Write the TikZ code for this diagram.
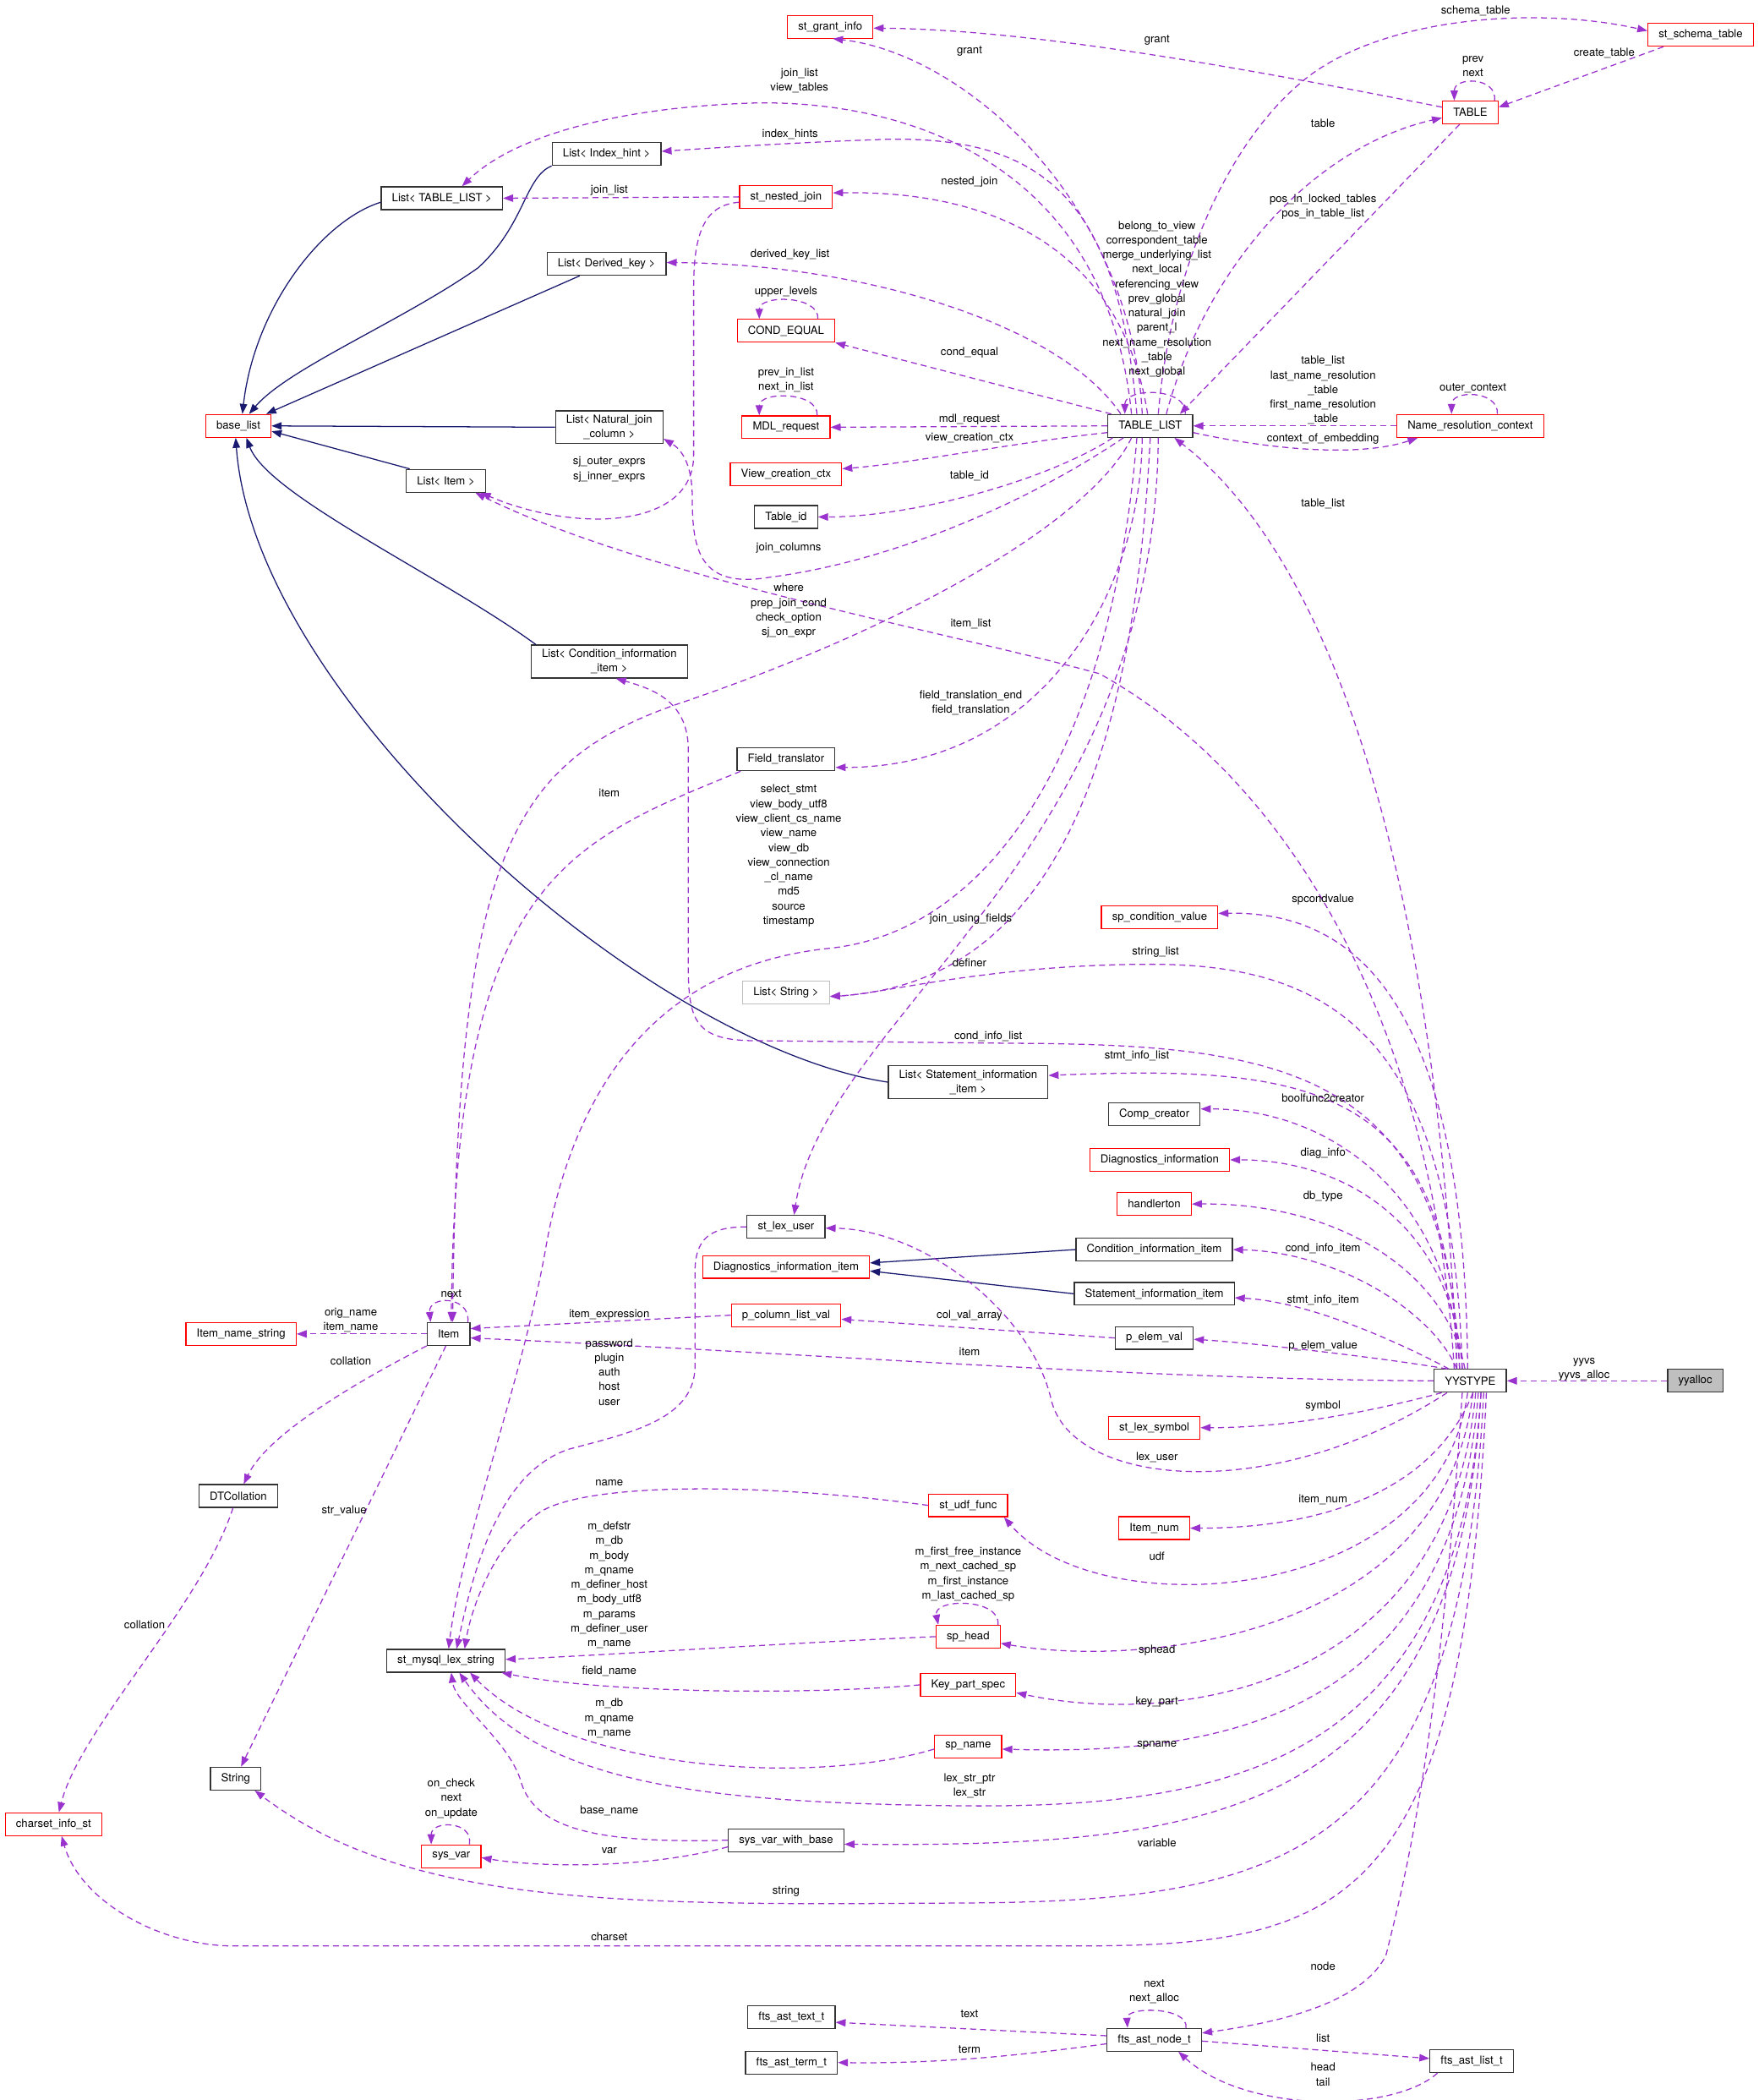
\documentclass[tikz,border=0pt]{standalone}
\usepackage{fontspec}
\setmainfont{TeX Gyre Heros}
\usetikzlibrary{arrows.meta, calc}
\definecolor{cMember}{HTML}{9A32CD}
\definecolor{cInherit}{HTML}{191970}
\definecolor{cUndoc}{HTML}{FF0000}
\definecolor{cNoDoc}{HTML}{BFBFBF}
\newcommand{\dxfont}{\fontsize{8.3}{10.9}\selectfont}
\tikzset{
  classbox/.style={draw=black!80, line width=0.8pt, fill=white, font=\dxfont,
    align=center, inner xsep=8pt, inner ysep=3pt, minimum height=17pt},
  undocbox/.style={classbox, draw=cUndoc},
  plainbox/.style={classbox, draw=cNoDoc},
  focusbox/.style={classbox, fill=cNoDoc},
  inheritflow/.style={-{Triangle[length=7.5pt, width=5.5pt]}, line width=0.8pt, color=cInherit},
  memberflow/.style={-{Triangle[length=7.5pt, width=5.5pt]}, line width=0.8pt, color=cMember,
    dash pattern=on 4.5pt off 3pt},
  edgelabel/.style={font=\dxfont, align=center, inner sep=0pt},
}

\begin{document}
\begin{tikzpicture}[x=1pt, y=-1pt]

  \fill[white] (0,0) rectangle (1313,1568);
  \useasboundingbox (0,0) rectangle (1313,1568);

  % ----------------------------------------------------------------
  % Classes
  % ----------------------------------------------------------------
  \node[undocbox] (cis)   at (40,1362)  {charset\_info\_st};

  \node[undocbox] (bl)    at (178,318)  {base\_list};
  \node[undocbox] (ins)   at (180,996)  {Item\_name\_string};
  \node[classbox] (dtc)   at (178,1117) {DTCollation};
  \node[classbox] (str)   at (176,1328) {String};

  \node[classbox] (ltl)   at (330,148)  {List< TABLE\_LIST >};
  \node[classbox] (litem) at (333,359)  {List< Item >};
  \node[classbox] (item)  at (335,996)  {Item};
  \node[classbox] (smls)  at (333,1240) {st\_mysql\_lex\_string};
  \node[undocbox] (sv)    at (337,1386) {sys\_var};

  \node[classbox] (lih)   at (453,115)  {List< Index\_hint >};
  \node[classbox] (ldk)   at (453,197)  {List< Derived\_key >};
  \node[classbox] (lnj)   at (455,319)  {List< Natural\_join\\\_column >};
  \node[classbox] (lci)   at (455,494)  {List< Condition\_information\\\_item >};

  \node[undocbox] (sgi)   at (620,20)   {st\_grant\_info};
  \node[undocbox] (snj)   at (587,147)  {st\_nested\_join};
  \node[undocbox] (ceq)   at (587,247)  {COND\_EQUAL};
  \node[undocbox] (mdl)   at (587,319)  {MDL\_request};
  \node[undocbox] (vcc)   at (587,354)  {View\_creation\_ctx};
  \node[classbox] (tid)   at (587,386)  {Table\_id};
  \node[classbox] (ft)    at (587,567)  {Field\_translator};
  \node[plainbox] (lstr)  at (587,741)  {List< String >};
  \node[classbox] (slu)   at (587,916)  {st\_lex\_user};
  \node[undocbox] (dii)   at (587,946)  {Diagnostics\_information\_item};
  \node[undocbox] (pclv)  at (587,982)  {p\_column\_list\_val};
  \node[classbox] (svwb)  at (587,1374) {sys\_var\_with\_base};
  \node[classbox] (fat)   at (591,1506) {fts\_ast\_text\_t};
  \node[classbox] (fatm)  at (591,1540) {fts\_ast\_term\_t};

  \node[classbox] (lsi)   at (723,808)  {List< Statement\_information\\\_item >};
  \node[undocbox] (suf)   at (723,1124) {st\_udf\_func};
  \node[undocbox] (sph)   at (723,1222) {sp\_head};
  \node[undocbox] (kps)   at (723,1258) {Key\_part\_spec};
  \node[undocbox] (spn)   at (723,1304) {sp\_name};

  \node[classbox] (tl)    at (859,318)  {TABLE\_LIST};
  \node[undocbox] (scv)   at (866,685)  {sp\_condition\_value};
  \node[classbox] (cc)    at (862,832)  {Comp\_creator};
  \node[undocbox] (di)    at (866,866)  {Diagnostics\_information};
  \node[undocbox] (hton)  at (862,899)  {handlerton};
  \node[classbox] (cii)   at (862,933)  {Condition\_information\_item};
  \node[classbox] (sii)   at (862,966)  {Statement\_information\_item};
  \node[classbox] (pev)   at (862,999)  {p\_elem\_val};
  \node[undocbox] (sls)   at (862,1066) {st\_lex\_symbol};
  \node[undocbox] (inum)  at (862,1141) {Item\_num};
  \node[classbox] (fan)   at (862,1523) {fts\_ast\_node\_t};

  \node[undocbox] (tbl)   at (1098,84)  {TABLE};
  \node[undocbox] (nrc)   at (1098,318) {Name\_resolution\_context};
  \node[classbox] (yys)   at (1098,1031) {YYSTYPE};
  \node[classbox] (fal)   at (1099,1539) {fts\_ast\_list\_t};

  \node[undocbox] (sst)   at (1270,26)  {st\_schema\_table};
  \node[focusbox] (yya)   at (1266,1031) {yyalloc};

  % ----------------------------------------------------------------
  % Inheritance
  % ----------------------------------------------------------------
  \draw[inheritflow] ([yshift=-3pt]ltl.west) .. controls (240,165) and (190,230) .. ([xshift=3pt]bl.north);
  \draw[inheritflow] (lih.south west) .. controls (392,132) and (392,168) .. (357,200)
    .. controls (300,240) and (215,275) .. ([xshift=8pt]bl.north);
  \draw[inheritflow] ([xshift=-20pt]ldk.south) -- ([xshift=-4pt]bl.north east);
  \draw[inheritflow] (lnj.west) -- (bl.east);
  \draw[inheritflow] ([xshift=3pt]litem.north west) -- ([yshift=-4pt]bl.east);
  \draw[inheritflow] ([xshift=4pt]lci.north west) .. controls (330,430) and (200,370) .. ([xshift=6pt]bl.south);
  \draw[inheritflow] (lsi.west) .. controls (480,780) and (190,520) .. ([xshift=-2pt]bl.south);
  \draw[inheritflow] (cii.west) -- ([yshift=3pt]dii.east);
  \draw[inheritflow] (sii.west) -- ([yshift=-3pt]dii.east);

  % ----------------------------------------------------------------
  % TABLE_LIST and its neighbours
  % ----------------------------------------------------------------
  \draw[memberflow] ([xshift=-6pt]tl.north) .. controls (845,150) and (720,40) .. ([xshift=2pt]sgi.south);
  \draw[memberflow] ([xshift=6pt]tl.north) .. controls (875,190) and (925,95) .. (980,55)
    .. controls (1040,12) and (1150,5) .. ([yshift=3pt]sst.west);
  \draw[memberflow] ([xshift=12pt]tl.north) .. controls (900,200) and (980,110) .. ([yshift=-4pt]tbl.west);
  \draw[memberflow] ([xshift=-14pt]tl.north) .. controls (825,110) and (660,74) .. (560,77)
    .. controls (450,81) and (380,105) .. ([xshift=15pt]ltl.north);
  \draw[memberflow] ([xshift=-10pt]tl.north) .. controls (835,150) and (780,102) .. (663,104)
    .. controls (600,106) and (540,110) .. ([yshift=2pt]lih.east);
  \draw[memberflow] ([xshift=-2pt]tl.north) .. controls (840,200) and (760,142) .. ([yshift=3pt]snj.east);
  \draw[memberflow] ([xshift=-22pt]tl.north) .. controls (790,240) and (640,197) .. ([yshift=1pt]ldk.east);
  \draw[memberflow] ([xshift=3pt]tl.north west) -- (ceq.south east);
  \draw[memberflow] (tl.west) -- (mdl.east);
  \draw[memberflow] ([yshift=-5pt]tl.west) .. controls (760,330) and (680,346) .. ([yshift=4pt]vcc.east);
  \draw[memberflow] ([xshift=-28pt]tl.south) .. controls (780,360) and (680,386) .. (tid.east);
  \draw[memberflow] ([xshift=-20pt]tl.south) .. controls (760,380) and (660,420) .. (575,431)
    .. controls (522,440) and (517,410) .. (517,372)
    .. controls (517,345) and (508,335) .. ([yshift=4pt]lnj.south east);
  \draw[memberflow] ([xshift=-14pt]tl.south) .. controls (820,380) and (700,460) .. (505,526)
    .. controls (380,570) and (342,640) .. ([xshift=3pt]item.north);
  \draw[memberflow] ([xshift=-6pt]tl.south) .. controls (852,440) and (780,573) .. ([yshift=-6pt]ft.east);
  \draw[memberflow] ([xshift=-10pt]tl.south) .. controls (830,560) and (740,695) .. (620,708)
    .. controls (500,720) and (430,800) .. (407,935)
    .. controls (390,1030) and (345,1150) .. ([xshift=2pt]smls.north);
  \draw[memberflow] (tl.south) .. controls (845,600) and (770,735) .. ([yshift=-3pt]lstr.east);
  \draw[memberflow] ([xshift=6pt]tl.south) .. controls (862,640) and (615,760) .. ([xshift=6pt]slu.north);
  \draw[memberflow] ([xshift=-6pt]tl.north east) .. controls +(2,-20) and +(0,-20) .. ([xshift=-19pt]tl.north);

  \draw[memberflow] (nrc.west) -- (tl.east);
  \draw[memberflow] ([yshift=-5pt]tl.east) .. controls (960,338) and (1020,340) .. ([xshift=16pt]nrc.south west);
  \draw[memberflow] ([xshift=-35pt]nrc.north east) .. controls +(1,-18) and +(0,-18) .. ([xshift=-14pt]nrc.north);

  \draw[memberflow] ([xshift=-8pt]tbl.south) -- ([xshift=-10pt]tl.north east);
  \draw[memberflow] ([yshift=4pt]tbl.west) .. controls (900,45) and (760,22) .. ([yshift=-1pt]sgi.east);
  \draw[memberflow] ([xshift=12pt]sst.south west) -- ([yshift=4pt]tbl.east);
  \draw[memberflow] ([xshift=-3pt]tbl.north east) .. controls +(2,-18) and +(0,-18) .. ([xshift=-12pt]tbl.north);

  \draw[memberflow] ([xshift=-13pt]ceq.north east) .. controls +(1,-18) and +(0,-18) .. ([xshift=-20pt]ceq.north);
  \draw[memberflow] ([xshift=-10pt]mdl.north east) .. controls +(1,-18) and +(0,-18) .. ([xshift=-20pt]mdl.north);

  \draw[memberflow] (snj.west) -- (ltl.east);
  \draw[memberflow] ([yshift=-4pt]snj.west) .. controls (527,153) and (518,172) .. (518,215) -- (518,340)
    .. controls (518,395) and (430,398) .. ([xshift=-4pt]litem.south east);

  \draw[memberflow] ([xshift=3pt]ft.south west) .. controls (420,630) and (340,660) .. ([xshift=2pt]item.north);

  % ----------------------------------------------------------------
  % YYSTYPE
  % ----------------------------------------------------------------
  \draw[memberflow] (yya.west) -- (yys.east);
  \draw[memberflow] ([xshift=-10pt]yys.north) .. controls (1075,700) and (1010,430) .. ([xshift=18pt]tl.south);
  \draw[memberflow] ([xshift=-12pt]yys.north) .. controls (1070,760) and (960,580) .. (821,503)
    .. controls (700,470) and (480,430) .. ([xshift=-8pt]litem.south east);
  \draw[memberflow] ([xshift=-2pt]yys.north) .. controls (1094,760) and (1020,680) .. ([yshift=3pt]scv.east);
  \draw[memberflow] ([xshift=-6pt]yys.north) .. controls (1085,780) and (1000,720) .. (860,720)
    .. controls (740,720) and (660,742) .. ([yshift=-3pt]lstr.east);
  \draw[memberflow] ([xshift=-8pt]yys.north) .. controls (1080,800) and (960,780) .. (760,779) -- (560,777)
    .. controls (518,776) and (514,760) .. (514,720) -- (514,560)
    .. controls (514,525) and (490,515) .. ([xshift=5pt]lci.south);
  \draw[memberflow] ([xshift=-10pt]yys.north) .. controls (1085,810) and (980,795) .. ([yshift=5pt]lsi.east);
  \draw[memberflow] ([xshift=-8pt]yys.north) .. controls (1085,900) and (1000,828) .. ([yshift=4pt]cc.east);
  \draw[memberflow] ([xshift=-6pt]yys.north) .. controls (1085,920) and (1010,866) .. (di.east);
  \draw[memberflow] ([xshift=-4pt]yys.north) .. controls (1080,950) and (1000,898) .. (hton.east);
  \draw[memberflow] ([xshift=-10pt]yys.north) .. controls (1070,980) and (1000,935) .. (cii.east);
  \draw[memberflow] ([xshift=-16pt]yys.north) .. controls (1050,1005) and (980,972) .. ([yshift=-3pt]sii.east);
  \draw[memberflow] ([xshift=10pt]yys.north west) .. controls (1040,1015) and (940,1003) .. ([yshift=-1pt]pev.east);
  \draw[memberflow] (yys.west) .. controls (850,1030) and (600,1010) .. ([yshift=-3pt]item.east);
  \draw[memberflow] ([xshift=6pt]yys.south west) .. controls (1020,1055) and (960,1066) .. (sls.east);
  \draw[memberflow] ([xshift=10pt]yys.south west) .. controls (950,1125) and (800,1110) .. (785,1045)
    .. controls (770,980) and (690,918) .. ([yshift=-1pt]slu.east);
  \draw[memberflow] ([xshift=2pt]yys.south) .. controls (1070,1115) and (985,1141) .. (inum.east);
  \draw[memberflow] ([xshift=-2pt]yys.south) .. controls (1075,1200) and (820,1215) .. ([xshift=-3pt]suf.south east);
  \draw[memberflow] ([xshift=2pt]yys.south) .. controls (1078,1225) and (850,1245) .. ([yshift=-5pt]sph.east);
  \draw[memberflow] ([xshift=4pt]yys.south) .. controls (1082,1260) and (880,1290) .. ([yshift=3pt]kps.south east);
  \draw[memberflow] ([xshift=6pt]yys.south) .. controls (1085,1290) and (900,1310) .. ([yshift=-2pt]spn.east);
  \draw[memberflow] ([xshift=8pt]yys.south) .. controls (1088,1330) and (900,1352) .. (695,1348)
    .. controls (520,1345) and (400,1330) .. ([xshift=10pt]smls.south);
  \draw[memberflow] ([xshift=8pt]yys.south) .. controls (1088,1360) and (900,1379) .. ([yshift=-3pt]svwb.east);
  \draw[memberflow] ([xshift=10pt]yys.south) .. controls (1090,1400) and (950,1421) .. (695,1421)
    .. controls (450,1423) and (300,1420) .. ([xshift=-5pt]str.south east);
  \draw[memberflow] ([xshift=12pt]yys.south) .. controls (1092,1430) and (1000,1453) .. (800,1453) -- (175,1453)
    .. controls (120,1453) and (60,1420) .. ([xshift=6pt]cis.south);
  \draw[memberflow] ([xshift=-6pt]yys.south) .. controls (1075,1300) and (1050,1400) .. (1035,1460)
    .. controls (1015,1500) and (940,1512) .. ([yshift=5pt]fan.east);

  % ----------------------------------------------------------------
  % Item, strings and the rest
  % ----------------------------------------------------------------
  \draw[memberflow] (item.west) -- (ins.east);
  \draw[memberflow] ([xshift=-2pt]item.north east) .. controls +(2,-20) and +(-2,-20) .. ([xshift=3pt]item.north west);
  \draw[memberflow] (item.south west) .. controls (270,1030) and (200,1070) .. ([xshift=4pt]dtc.north);
  \draw[memberflow] ([xshift=-2pt]item.south) -- ([xshift=4pt]str.north);
  \draw[memberflow] ([xshift=-4pt]dtc.south) .. controls (150,1200) and (60,1290) .. ([xshift=4pt]cis.north);
  \draw[memberflow] (pclv.west) -- ([yshift=4pt]item.east);
  \draw[memberflow] (pev.west) -- ([yshift=-3pt]pclv.east);

  \draw[memberflow] (slu.west) .. controls (530,916) and (519,925) .. (519,950) -- (519,1020)
    .. controls (519,1060) and (470,1070) .. (425,1082)
    .. controls (370,1100) and (352,1180) .. ([xshift=8pt]smls.north);
  \draw[memberflow] (suf.west) .. controls (560,1106) and (440,1108) .. (405,1128)
    .. controls (370,1150) and (352,1200) .. ([xshift=14pt]smls.north);
  \draw[memberflow] (sph.west) .. controls (600,1226) and (450,1236) .. ([yshift=1pt]smls.east);
  \draw[memberflow] ([xshift=-2pt]sph.north east) .. controls +(2,-20) and +(-4,-20) .. ([xshift=2pt]sph.north west);
  \draw[memberflow] (kps.west) .. controls (600,1266) and (450,1264) .. ([xshift=-3pt]smls.south east);
  \draw[memberflow] ([yshift=-2pt]spn.west) .. controls (600,1335) and (420,1320) .. ([xshift=18pt]smls.south);
  \draw[memberflow] (svwb.west) .. controls (460,1376) and (400,1370) .. (389,1330)
    .. controls (380,1300) and (340,1272) .. ([xshift=4pt]smls.south);
  \draw[memberflow] ([yshift=-5pt]svwb.west) .. controls (480,1396) and (400,1394) .. ([yshift=-1pt]sv.east);
  \draw[memberflow] ([xshift=-9pt]sv.north east) .. controls +(3,-18) and +(0,-18) .. ([xshift=-15pt]sv.north);

  \draw[memberflow] ([yshift=3pt]fan.west) -- ([yshift=-4pt]fat.east);
  \draw[memberflow] ([yshift=-3pt]fan.west) .. controls (760,1535) and (700,1541) .. (fatm.east);
  \draw[memberflow] ([yshift=-1pt]fan.east) -- ([yshift=2pt]fal.west);
  \draw[memberflow] ([xshift=6pt]fal.south west) .. controls (1040,1578) and (930,1578) .. ([xshift=18pt]fan.south);
  \draw[memberflow] ([xshift=-12pt]fan.north east) .. controls +(2,-16) and +(-1,-16) .. ([xshift=-20pt]fan.north);

  % ----------------------------------------------------------------
  % Edge labels
  % ----------------------------------------------------------------
  \node[edgelabel] (lgrant)   at (724,38)   {grant};
  \node[edgelabel] (lgrantb)  at (864,30)   {grant};
  \node[edgelabel] (lschema)  at (1102,8)   {schema\_table};
  \node[edgelabel] (lcreate)  at (1198,40)  {create\_table};
  \node[edgelabel] (lprev)    at (1100,49.5) {prev\\next};
  \node[edgelabel] (ltable)   at (988,92)   {table};
  \node[edgelabel] (ljoinl)   at (597,60)   {join\_list\\view\_tables};
  \node[edgelabel] (lhints)   at (590,100)  {index\_hints};
  \node[edgelabel] (ljoinb)   at (455,142)  {join\_list};
  \node[edgelabel] (lnested)  at (724,136)  {nested\_join};
  \node[edgelabel] (lpos)     at (988,154.5) {pos\_in\_locked\_tables\\pos\_in\_table\_list};
  \node[edgelabel] (lderived) at (590,190)  {derived\_key\_list};
  \node[edgelabel] (lself)    at (864,223.5)
    {belong\_to\_view\\correspondent\_table\\merge\_underlying\_list\\next\_local\\referencing\_view\\prev\_global\\natural\_join\\parent\_l\\next\_name\_resolution\\\_table\\next\_global};
  \node[edgelabel] (lupper)   at (587,218)  {upper\_levels};
  \node[edgelabel] (lcond)    at (724,263)  {cond\_equal};
  \node[edgelabel] (lnrc)     at (988,291.5)
    {table\_list\\last\_name\_resolution\\\_table\\first\_name\_resolution\\\_table};
  \node[edgelabel] (louter)   at (1100,290) {outer\_context};
  \node[edgelabel] (lmdlself) at (587,283.5) {prev\_in\_list\\next\_in\_list};
  \node[edgelabel] (lmdl)     at (724,313)  {mdl\_request};
  \node[edgelabel] (lview)    at (724,327)  {view\_creation\_ctx};
  \node[edgelabel] (lctx)     at (988,328)  {context\_of\_embedding};
  \node[edgelabel] (lsj)      at (455,350.5) {sj\_outer\_exprs\\sj\_inner\_exprs};
  \node[edgelabel] (ltid)     at (724,355)  {table\_id};
  \node[edgelabel] (ltlist)   at (988,376)  {table\_list};
  \node[edgelabel] (ljcols)   at (589,409)  {join\_columns};
  \node[edgelabel] (lwhere)   at (589,456)  {where\\prep\_join\_cond\\check\_option\\sj\_on\_expr};
  \node[edgelabel] (lilist)   at (725,466)  {item\_list};
  \node[edgelabel] (lftrans)  at (725,525)  {field\_translation\_end\\field\_translation};
  \node[edgelabel] (lftitem)  at (455,592)  {item};
  \node[edgelabel] (lview2)   at (589,639)
    {select\_stmt\\view\_body\_utf8\\view\_client\_cs\_name\\view\_name\\view\_db\\view\_connection\\\_cl\_name\\md5\\source\\timestamp};
  \node[edgelabel] (lspcond)  at (988,672)  {spcondvalue};
  \node[edgelabel] (ljusing)  at (725,686)  {join\_using\_fields};
  \node[edgelabel] (lslist)   at (863,711)  {string\_list};
  \node[edgelabel] (ldefiner) at (724,719)  {definer};
  \node[edgelabel] (lcilist)  at (738,774)  {cond\_info\_list};
  \node[edgelabel] (lsilist)  at (849,788)  {stmt\_info\_list};
  \node[edgelabel] (lbool)    at (988,820)  {boolfunc2creator};
  \node[edgelabel] (ldiag)    at (988,861)  {diag\_info};
  \node[edgelabel] (ldbtype)  at (988,893)  {db\_type};
  \node[edgelabel] (lciitem)  at (988,932)  {cond\_info\_item};
  \node[edgelabel] (linext)   at (337,966)  {next};
  \node[edgelabel] (lsiitem)  at (988,971)  {stmt\_info\_item};
  \node[edgelabel] (lnames)   at (262,985.5) {orig\_name\\item\_name};
  \node[edgelabel] (liexpr)   at (455,982)  {item\_expression};
  \node[edgelabel] (lcolval)  at (724,982)  {col\_val\_array};
  \node[edgelabel] (lpelem)   at (988,1005) {p\_elem\_value};
  \node[edgelabel] (lyitem)   at (724,1009) {item};
  \node[edgelabel] (luser)    at (455,1024.5) {password\\plugin\\auth\\host\\user};
  \node[edgelabel] (lcoll)    at (262,1016) {collation};
  \node[edgelabel] (lyyvs)    at (1183,1022.5) {yyvs\\yyvs\_alloc};
  \node[edgelabel] (lsymbol)  at (988,1050) {symbol};
  \node[edgelabel] (llexuser) at (864,1088) {lex\_user};
  \node[edgelabel] (lname)    at (455,1107) {name};
  \node[edgelabel] (lstrval)  at (257,1128) {str\_value};
  \node[edgelabel] (linum)    at (988,1120) {item\_num};
  \node[edgelabel] (ludf)     at (864,1162) {udf};
  \node[edgelabel] (lsphself) at (723,1175.5)
    {m\_first\_free\_instance\\m\_next\_cached\_sp\\m\_first\_instance\\m\_last\_cached\_sp};
  \node[edgelabel] (lsphstr)  at (455,1183.5)
    {m\_defstr\\m\_db\\m\_body\\m\_qname\\m\_definer\_host\\m\_body\_utf8\\m\_params\\m\_definer\_user\\m\_name};
  \node[edgelabel] (lcollb)   at (108,1213) {collation};
  \node[edgelabel] (lsphead)  at (864,1232) {sphead};
  \node[edgelabel] (lfield)   at (455,1248) {field\_name};
  \node[edgelabel] (lkeypart) at (864,1271) {key\_part};
  \node[edgelabel] (lspnstr)  at (455,1283) {m\_db\\m\_qname\\m\_name};
  \node[edgelabel] (lspname)  at (864,1303) {spname};
  \node[edgelabel] (llexstr)  at (724,1333.5) {lex\_str\_ptr\\lex\_str};
  \node[edgelabel] (lsvself)  at (337,1343) {on\_check\\next\\on\_update};
  \node[edgelabel] (lbase)    at (455,1352) {base\_name};
  \node[edgelabel] (lvariable) at (864,1376) {variable};
  \node[edgelabel] (lvar)     at (455,1382) {var};
  \node[edgelabel] (lstring)  at (587,1412) {string};
  \node[edgelabel] (lcharset) at (455,1446) {charset};
  \node[edgelabel] (lnode)    at (988,1468) {node};
  \node[edgelabel] (lfanself) at (862,1487) {next\\next\_alloc};
  \node[edgelabel] (ltext)    at (724,1504) {text};
  \node[edgelabel] (llist)    at (988,1522) {list};
  \node[edgelabel] (lterm)    at (724,1530) {term};
  \node[edgelabel] (lhead)    at (988,1549) {head\\tail};

\end{tikzpicture}
\end{document}
